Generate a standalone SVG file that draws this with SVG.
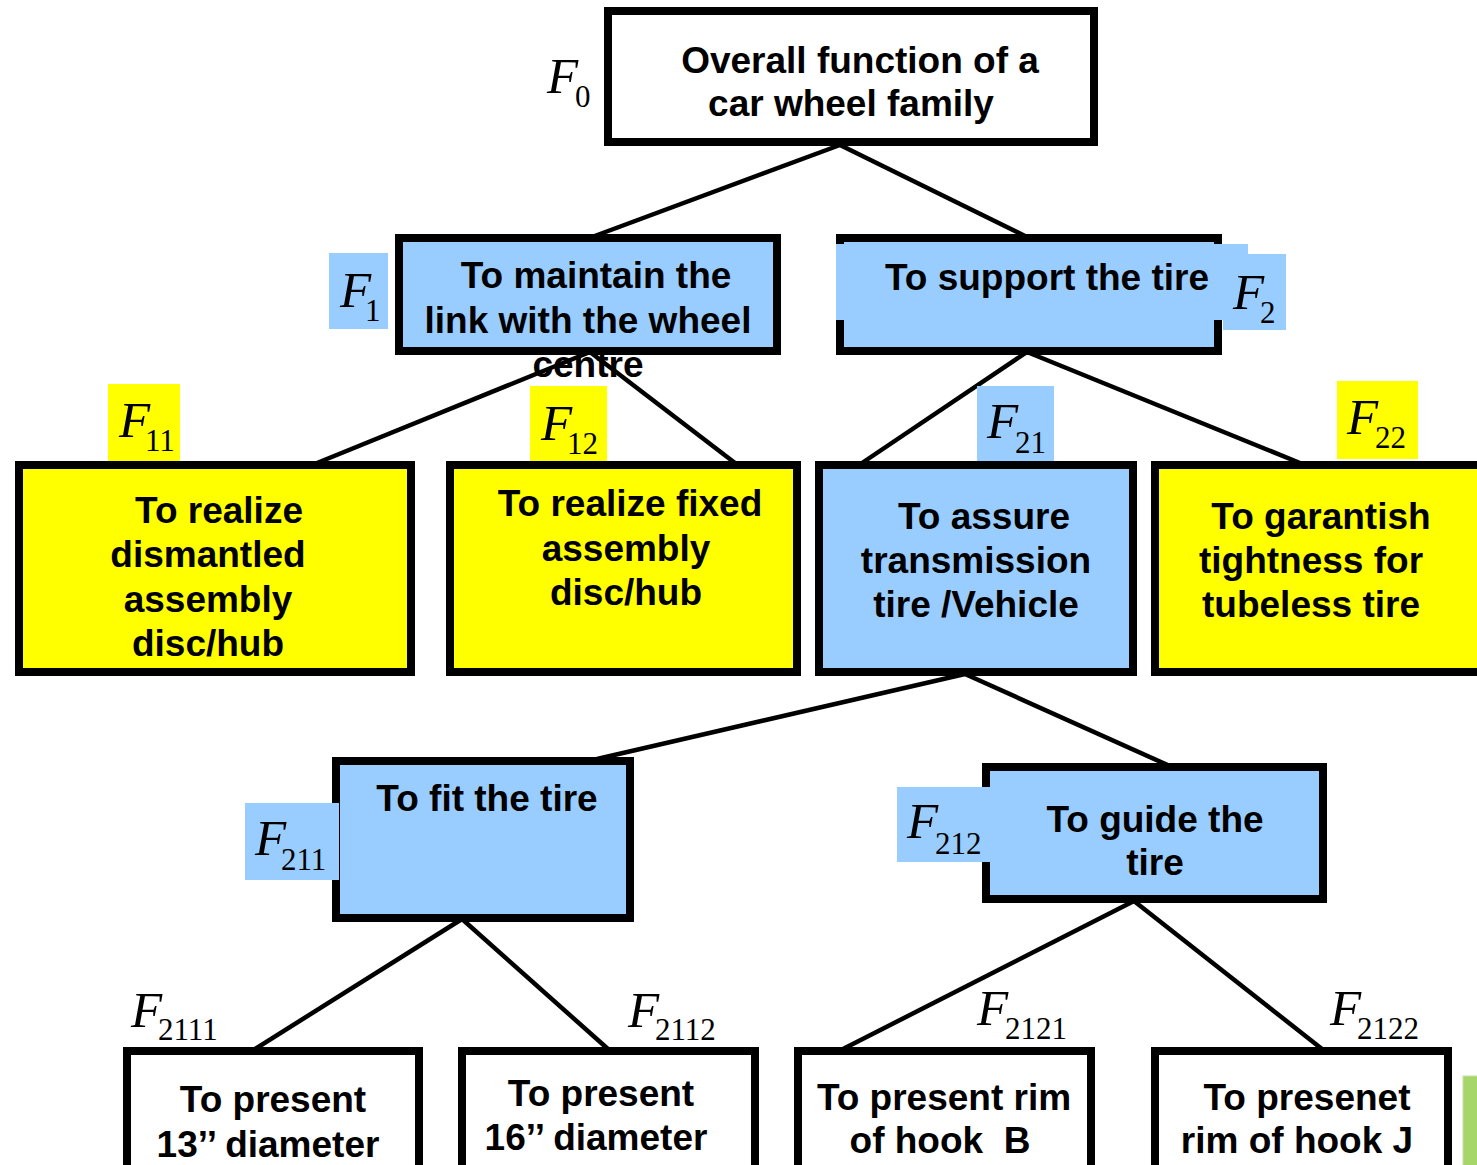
<svg xmlns="http://www.w3.org/2000/svg" width="1477" height="1165" viewBox="0 0 1477 1165">
<style>
.box{stroke:#000;stroke-width:8}
.w{fill:#fff}.b{fill:#99CCFF}.y{fill:#FFFF00}
.t{font-family:"Liberation Sans",Arial,sans-serif;font-weight:bold;font-size:37px;fill:#000;text-anchor:middle}
.F{font-family:"Liberation Serif","Times New Roman",serif;font-style:italic;font-size:51px;fill:#000}
.s{font-family:"Liberation Serif","Times New Roman",serif;font-size:31px;fill:#000}
.ln{stroke:#000;stroke-width:4.5;fill:none}
</style>
<rect width="1477" height="1165" fill="#fff"/>
<g id="connectors">
<line class="ln" x1="840" y1="145" x2="592" y2="237"/>
<line class="ln" x1="840" y1="145" x2="1027" y2="237"/>
<line class="ln" x1="590" y1="352" x2="317" y2="463"/>
<line class="ln" x1="590" y1="352" x2="735" y2="463"/>
<line class="ln" x1="1027" y1="352" x2="862" y2="463"/>
<line class="ln" x1="1027" y1="352" x2="1300" y2="463"/>
<line class="ln" x1="965" y1="674" x2="597" y2="759"/>
<line class="ln" x1="965" y1="674" x2="1172" y2="767"/>
<line class="ln" x1="462" y1="919" x2="255" y2="1049"/>
<line class="ln" x1="462" y1="919" x2="608" y2="1049"/>
<line class="ln" x1="1134" y1="901" x2="843" y2="1049"/>
<line class="ln" x1="1134" y1="901" x2="1322" y2="1049"/>
</g>
<g id="F0">
<rect class="box w" x="608" y="11" width="486" height="131" stroke-width="6"/>
<text class="t" x="860" y="73">Overall function of a</text>
<text class="t" x="851" y="116">car wheel family</text>
<text class="F" x="547" y="93">F</text><text class="s" x="575" y="107">0</text>
</g>
<g id="F1">
<rect class="b" x="329" y="253" width="59" height="76"/>
<text class="F" x="340" y="307">F</text><text class="s" x="365" y="321">1</text>
<rect class="box b" x="399" y="238" width="378" height="113"/>
<text class="t" x="596" y="288">To maintain the</text>
<text class="t" x="588" y="333">link with the wheel</text>
<text class="t" x="588" y="377">centre</text>
</g>
<g id="F2">
<rect class="box b" x="840" y="238" width="378" height="113"/>
<rect class="b" x="836" y="244" width="412" height="76"/>
<rect class="b" x="1223" y="254" width="63" height="76"/>
<text class="t" x="1047" y="290">To support the tire</text>
<text class="F" x="1233" y="309">F</text><text class="s" x="1260" y="323">2</text>
</g>
<g id="F11">
<rect class="y" x="108" y="384" width="72" height="77"/>
<text class="F" x="119" y="437">F</text><text class="s" x="145" y="451">11</text>
<rect class="box y" x="19" y="465" width="392" height="207"/>
<text class="t" x="219" y="523">To realize</text>
<text class="t" x="208" y="567">dismantled</text>
<text class="t" x="208" y="612">assembly</text>
<text class="t" x="208" y="656">disc/hub</text>
</g>
<g id="F12">
<rect class="y" x="530" y="386" width="77" height="77"/>
<text class="F" x="541" y="440">F</text><text class="s" x="567" y="454">12</text>
<rect class="box y" x="450" y="465" width="347" height="207"/>
<text class="t" x="630" y="516">To realize fixed</text>
<text class="t" x="626" y="561">assembly</text>
<text class="t" x="626" y="605">disc/hub</text>
</g>
<g id="F21">
<rect class="b" x="977" y="386" width="77" height="77"/>
<text class="F" x="987" y="438">F</text><text class="s" x="1015" y="453">21</text>
<rect class="box b" x="819" y="465" width="314" height="207"/>
<text class="t" x="984" y="529">To assure</text>
<text class="t" x="976" y="573">transmission</text>
<text class="t" x="976" y="617">tire /Vehicle</text>
</g>
<g id="F22">
<rect class="y" x="1337" y="381" width="81" height="78"/>
<text class="F" x="1347" y="434">F</text><text class="s" x="1375" y="448">22</text>
<rect class="box y" x="1155" y="465" width="330" height="207"/>
<text class="t" x="1321" y="529">To garantish</text>
<text class="t" x="1311" y="573">tightness for</text>
<text class="t" x="1311" y="617">tubeless tire</text>
</g>
<g id="F211">
<rect class="box b" x="336" y="761" width="294" height="157"/>
<rect class="b" x="245" y="803" width="94" height="77"/>
<text class="F" x="255" y="855">F</text><text class="s" x="281" y="870">211</text>
<text class="t" x="487" y="811">To fit the tire</text>
</g>
<g id="F212">
<rect class="box b" x="986" y="767" width="337" height="132"/>
<rect class="b" x="897" y="787" width="95" height="75"/>
<text class="F" x="907" y="838">F</text><text class="s" x="935" y="854">212</text>
<text class="t" x="1155" y="832">To guide the</text>
<text class="t" x="1155" y="875">tire</text>
</g>
<g id="F2111">
<rect class="box w" x="127" y="1051" width="292" height="120"/>
<text class="F" x="131" y="1027">F</text><text class="s" x="158" y="1040">2111</text>
<text class="t" x="273" y="1112">To present</text>
<text class="t" x="268" y="1157">13’’ diameter</text>
</g>
<g id="F2112">
<rect class="box w" x="462" y="1051" width="293" height="120"/>
<text class="F" x="628" y="1027">F</text><text class="s" x="655" y="1040">2112</text>
<text class="t" x="601" y="1106">To present</text>
<text class="t" x="596" y="1150">16’’ diameter</text>
</g>
<g id="F2121">
<rect class="box w" x="798" y="1051" width="293" height="120"/>
<text class="F" x="977" y="1025">F</text><text class="s" x="1005" y="1039">2121</text>
<text class="t" x="944" y="1110">To present rim</text>
<text class="t" x="940" y="1153">of hook &#160;B</text>
</g>
<g id="F2122">
<rect class="box w" x="1155" y="1051" width="293" height="120"/>
<text class="F" x="1330" y="1025">F</text><text class="s" x="1357" y="1039">2122</text>
<text class="t" x="1307" y="1110">To presenet</text>
<text class="t" x="1297" y="1153">rim of hook J</text>
</g>
<rect x="1463" y="1076" width="16" height="92" fill="#A6D66A" stroke="#C8E0A8" stroke-width="1"/>
</svg>
